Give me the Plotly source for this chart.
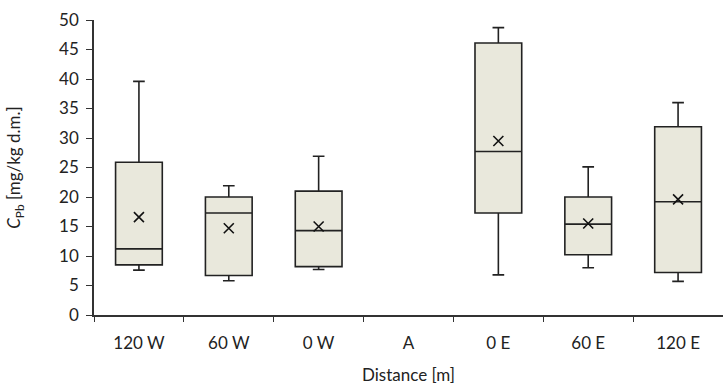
import plotly.graph_objects as go

categories = ["120 W", "60 W", "0 W", "A", "0 E", "60 E", "120 E"]
box_cats = ["120 W", "60 W", "0 W", "0 E", "60 E", "120 E"]
lower = [7.6, 5.8, 7.7, 6.8, 8.0, 5.7]
q1 = [8.5, 6.7, 8.2, 17.3, 10.2, 7.2]
median = [11.2, 17.3, 14.3, 27.7, 15.4, 19.2]
q3 = [25.9, 20.0, 21.0, 46.1, 20.0, 31.9]
upper = [39.6, 21.9, 26.9, 48.7, 25.1, 36.0]
mean = [16.6, 14.7, 15.0, 29.5, 15.5, 19.6]
y_ticks = [0, 5, 10, 15, 20, 25, 30, 35, 40, 45, 50]

font = "Lato"
fs = 17
fig = go.Figure()
fig.add_trace(go.Box(
    x=box_cats, q1=q1, median=median, q3=q3,
    lowerfence=lower, upperfence=upper,
    fillcolor="#E9E8DC", line=dict(color="#222222", width=1.6),
    width=0.52, whiskerwidth=0.25, boxpoints=False, showlegend=False,
    hoverinfo="skip",
))
fig.add_trace(go.Scatter(
    x=box_cats, y=mean, mode="markers",
    marker=dict(symbol="x-thin", size=10, color="#111111",
                line=dict(color="#111111", width=1.6)),
    showlegend=False, hoverinfo="skip",
))
fig.update_layout(
    width=723, height=385,
    margin=dict(l=94, r=0, t=20, b=70),
    plot_bgcolor="white", paper_bgcolor="white",
    font=dict(family=font, size=fs, color="#222222"),
)
fig.update_xaxes(
    type="category", categoryorder="array", categoryarray=categories,
    range=[-0.5, 6.5], tickson="boundaries", ticks="outside", ticklen=5,
    tickcolor="#333333", showline=True, linecolor="#333333", linewidth=1.5,
    showgrid=False, zeroline=False, ticklabelstandoff=12,
    title=dict(text="Distance [m]", font=dict(size=fs, family=font), standoff=17),
    tickfont=dict(size=fs, family=font),
)
fig.update_yaxes(
    range=[0, 50], tickvals=y_ticks, ticks="outside", ticklen=6,
    tickcolor="#333333", showline=True, linecolor="#333333", linewidth=1.5,
    showgrid=False, zeroline=False, ticklabelstandoff=4,
    title=dict(text="<i>C</i><sub>Pb</sub> [mg/kg d.m.]", font=dict(size=fs, family=font), standoff=34),
    tickfont=dict(size=fs, family=font),
)
fig.write_html("out.html")
